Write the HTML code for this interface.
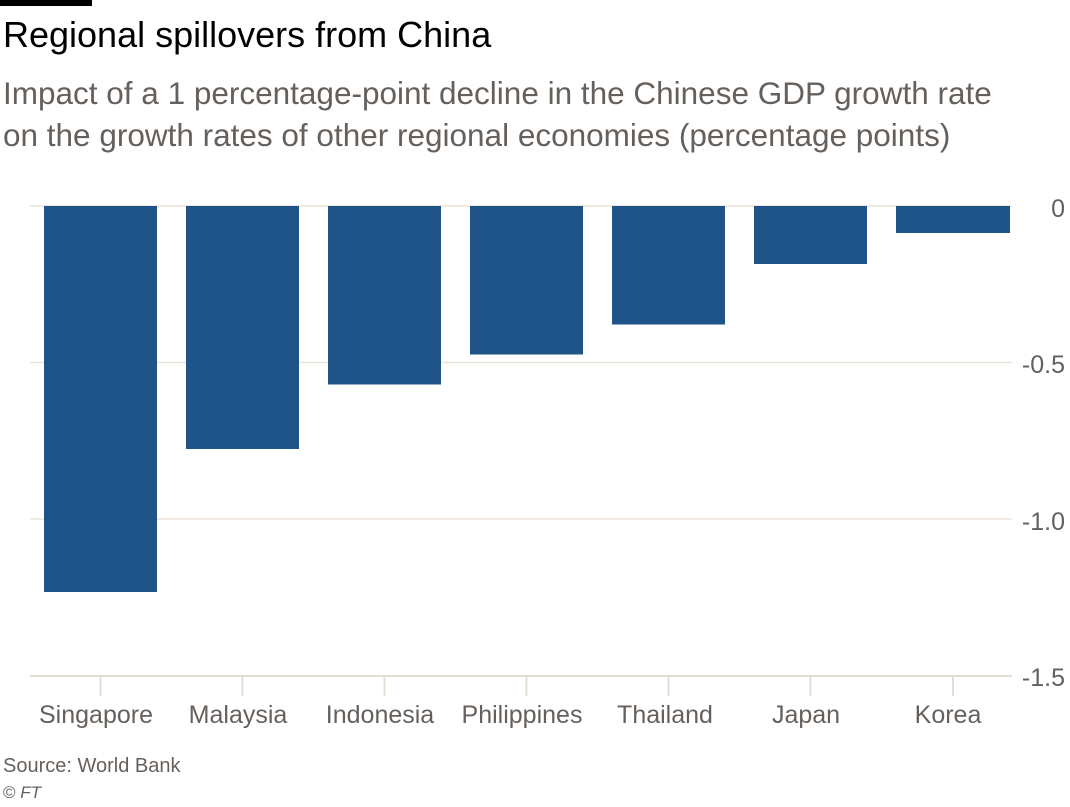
<!DOCTYPE html>
<html>
<head>
<meta charset="utf-8">
<style>
  html, body { margin: 0; padding: 0; background: #ffffff; }
  body { width: 1070px; height: 807px; overflow: hidden; }
  svg { display: block; }
  text { font-family: "Liberation Sans", "DejaVu Sans", sans-serif; }
</style>
</head>
<body>
<svg width="1070" height="807" viewBox="0 0 1070 807" xmlns="http://www.w3.org/2000/svg">
  <rect x="0" y="0" width="1070" height="807" fill="#ffffff"/>
  <!-- top black rule -->
  <rect x="0" y="0" width="92" height="6" fill="#000000"/>

  <!-- title -->
  <text x="3" y="47" font-size="36" fill="#000000">Regional spillovers from China</text>
  <!-- subtitle -->
  <text x="3" y="104" font-size="31.5" fill="#66605c">Impact of a 1 percentage-point decline in the Chinese GDP growth rate</text>
  <text x="3" y="146" font-size="31.5" fill="#66605c">on the growth rates of other regional economies (percentage points)</text>

  <!-- gridlines -->
  <g stroke="#ebe3da" stroke-width="1.5">
    <line x1="30" y1="206" x2="1012" y2="206"/>
    <line x1="30" y1="362.5" x2="1012" y2="362.5"/>
    <line x1="30" y1="519" x2="1012" y2="519"/>
  </g>

  <!-- bars -->
  <g fill="#1f5489">
    <rect x="44" y="206" width="113" height="386"/>
    <rect x="186" y="206" width="113" height="243"/>
    <rect x="328" y="206" width="113" height="178.5"/>
    <rect x="470" y="206" width="113" height="148.5"/>
    <rect x="612" y="206" width="113" height="118.5"/>
    <rect x="754" y="206" width="113" height="58"/>
    <rect x="896" y="206" width="114" height="27"/>
  </g>

  <!-- baseline axis -->
  <line x1="30" y1="676" x2="1012" y2="676" stroke="#e4ddd4" stroke-width="2"/>
  <!-- ticks -->
  <g stroke="#e4ddd4" stroke-width="2">
    <line x1="100.5" y1="676" x2="100.5" y2="696"/>
    <line x1="242.5" y1="676" x2="242.5" y2="696"/>
    <line x1="384.5" y1="676" x2="384.5" y2="696"/>
    <line x1="526.5" y1="676" x2="526.5" y2="696"/>
    <line x1="668.5" y1="676" x2="668.5" y2="696"/>
    <line x1="810.5" y1="676" x2="810.5" y2="696"/>
    <line x1="953" y1="676" x2="953" y2="696"/>
  </g>

  <!-- y tick labels -->
  <g font-size="25" fill="#66605c" text-anchor="end">
    <text x="1065" y="217">0</text>
    <text x="1065" y="373">-0.5</text>
    <text x="1065" y="530">-1.0</text>
    <text x="1065" y="686">-1.5</text>
  </g>

  <!-- category labels -->
  <g font-size="25" fill="#66605c" text-anchor="middle">
    <text x="96" y="723">Singapore</text>
    <text x="238" y="723">Malaysia</text>
    <text x="380" y="723">Indonesia</text>
    <text x="522" y="723">Philippines</text>
    <text x="665" y="723">Thailand</text>
    <text x="806" y="723">Japan</text>
    <text x="948" y="723">Korea</text>
  </g>

  <!-- source -->
  <text x="3" y="772" font-size="20" fill="#66605c">Source: World Bank</text>
  <text x="3" y="798" font-size="17" fill="#66605c"><tspan>©</tspan><tspan font-style="italic"> FT</tspan></text>
</svg>
</body>
</html>
